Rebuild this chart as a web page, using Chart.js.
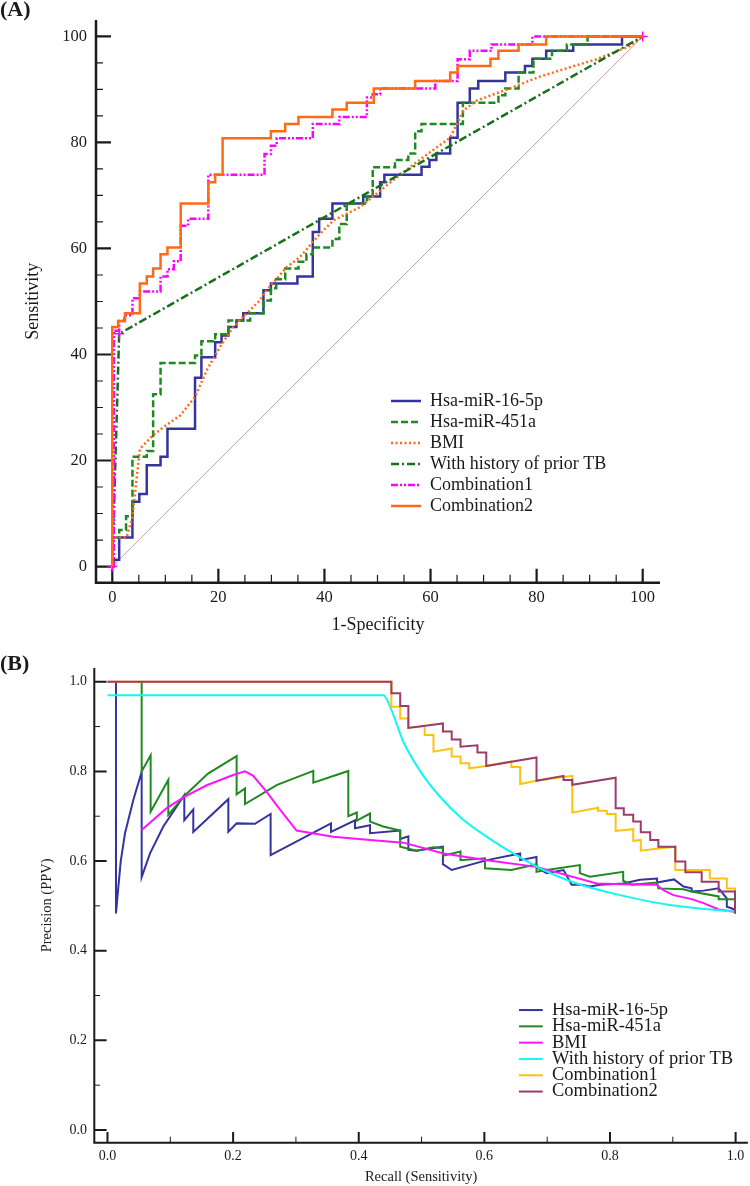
<!DOCTYPE html>
<html lang="en">
<head>
<meta charset="utf-8">
<title>ROC and PR curves</title>
<script src="https://cdn.jsdelivr.net/npm/chart.js@4.4.1/dist/chart.umd.min.js"></script>
<style>
  html, body { margin: 0; padding: 0; background: #fff; }
  canvas { display: block; }
</style>
</head>
<body>
<canvas id="rocChart" width="750" height="640"></canvas>
<canvas id="prChart" width="750" height="546"></canvas>
<script>
const seriesNames = ['Hsa-miR-16-5p', 'Hsa-miR-451a', 'BMI', 'With history of prior TB', 'Combination1', 'Combination2'];

// (A) ROC curves, 1-specificity (%) vs sensitivity (%) - corner points
const mir16Fpr = [0, 0, 1.3, 3.8, 5.1, 6.5, 9.1, 10.4, 15.6, 16.8, 19.4, 20.6, 21.9, 23.4, 24.7, 28.5, 29.9, 34.9, 37.8, 39.0, 41.5, 47.3, 50.5, 51.3, 58.3, 59.8, 61.1, 63.7, 65.1, 67.4, 69.0, 74.1, 77.8, 79.2, 81.8, 86.9, 96.1, 100];
const mir16Tpr = [0, 1.3, 5.5, 12.2, 13.7, 19.1, 20.7, 26.0, 35.6, 39.5, 42.3, 43.6, 45.2, 46.4, 47.8, 52.1, 53.4, 54.7, 63.1, 65.6, 68.5, 69.8, 72.5, 73.9, 75.4, 76.7, 77.9, 80.9, 87.5, 90.2, 91.6, 93.2, 94.4, 95.8, 97.3, 98.5, 100, 100];

const mir451Fpr = [0, 0, 1.3, 2.6, 3.8, 6.5, 7.7, 9.1, 15.6, 16.8, 19.4, 21.9, 26.0, 28.5, 29.9, 30.9, 32.6, 35.1, 36.6, 37.8, 41.5, 42.8, 44.2, 48.0, 49.1, 53.3, 55.8, 57.1, 58.3, 66.1, 72.8, 74.1, 76.6, 79.4, 82.9, 85.7, 89.6, 100];
const mir451Tpr = [0, 5.5, 6.9, 9.5, 20.7, 21.8, 32.5, 38.4, 39.8, 42.5, 43.8, 46.4, 47.8, 50.2, 52.5, 54.2, 56.2, 57.5, 58.9, 60.2, 61.8, 64.6, 68.5, 69.7, 75.3, 76.7, 77.9, 82.1, 83.5, 87.5, 88.9, 90.2, 93.2, 95.8, 97.3, 98.5, 100, 100];

const bmiFpr = [0, 0, 2.7, 3.8, 5.2, 7.7, 10.2, 12.8, 15.6, 17.8, 20.3, 22.8, 25.3, 27.8, 29.1, 32.9, 35.4, 39.2, 41.7, 46.7, 50.5, 53.6, 58.6, 63.7, 66.2, 68.7, 75.0, 80.0, 85.0, 91.3, 97.6, 100];
const bmiTpr = [0, 5.5, 5.5, 9.4, 22.2, 24.8, 26.7, 28.5, 32.0, 37.0, 41.4, 45.2, 47.7, 50.2, 52.1, 56.5, 58.4, 62.8, 65.3, 67.8, 70.9, 73.4, 77.2, 80.9, 86.0, 87.9, 90.2, 92.2, 93.8, 95.7, 98.2, 100];

const histFpr = [0, 1.3, 100];
const histTpr = [0, 43.9, 100];

const comb1Fpr = [0, 0.3, 1.3, 2.3, 3.8, 5.2, 9.1, 10.4, 11.6, 12.9, 14.3, 18.1, 28.7, 29.9, 31.0, 37.8, 42.8, 48.0, 49.1, 50.5, 60.9, 65.1, 67.4, 71.5, 79.2, 100];
const comb1Tpr = [0, 44.5, 46.3, 47.4, 50.6, 51.9, 54.7, 56.1, 57.6, 64.3, 65.6, 73.9, 77.8, 79.4, 80.8, 83.5, 84.8, 88.5, 89.1, 90.2, 91.6, 95.7, 97.3, 98.5, 100, 100];

const comb2Fpr = [0, 0, 1.1, 2.4, 5.2, 6.5, 7.7, 9.1, 10.4, 12.9, 18.1, 19.4, 20.8, 29.9, 32.6, 35.1, 41.5, 44.2, 49.3, 57.1, 63.7, 65.1, 71.3, 72.8, 76.6, 81.8, 100];
const comb2Tpr = [0, 45.2, 46.3, 47.8, 53.4, 54.7, 56.2, 58.9, 60.2, 68.5, 72.5, 73.9, 80.8, 82.1, 83.5, 84.8, 86.2, 87.5, 90.2, 91.6, 93.2, 94.4, 95.8, 97.3, 98.5, 100, 100];

const rocTicks = [0, 20, 40, 60, 80, 100];
const rocMinorTicks = [5, 10, 15, 25, 30, 35, 45, 50, 55, 65, 70, 75, 85, 90, 95];

// (B) precision-recall curves
const mir16Recall = [0.0135, 0.0135, 0.0165, 0.0211, 0.0279, 0.0411, 0.0544, 0.0544, 0.0677, 0.0889, 0.1223, 0.1223, 0.1366, 0.1366, 0.1924, 0.1924, 0.2056, 0.2348, 0.2597, 0.2597, 0.3558, 0.3558, 0.394, 0.394, 0.418, 0.418, 0.466, 0.466, 0.479, 0.479, 0.492, 0.534, 0.534, 0.548, 0.604, 0.657, 0.657, 0.683, 0.683, 0.699, 0.726, 0.739, 0.755, 0.768, 0.784, 0.821, 0.848, 0.875, 0.875, 0.902, 0.917, 0.930, 0.930, 0.949, 0.973, 0.986, 0.986, 0.999, 0.999];
const mir16Precision = [1.0, 0.483, 0.53, 0.60, 0.662, 0.736, 0.799, 0.564, 0.617, 0.677, 0.747, 0.691, 0.715, 0.665, 0.738, 0.665, 0.684, 0.683, 0.705, 0.613, 0.684, 0.665, 0.691, 0.673, 0.680, 0.662, 0.668, 0.649, 0.655, 0.625, 0.623, 0.632, 0.593, 0.580, 0.602, 0.617, 0.602, 0.609, 0.587, 0.573, 0.580, 0.547, 0.547, 0.543, 0.547, 0.550, 0.558, 0.561, 0.552, 0.559, 0.543, 0.539, 0.532, 0.534, 0.539, 0.517, 0.498, 0.492, 0.483];

const mir451Recall = [0.0544, 0.0544, 0.0687, 0.0687, 0.0968, 0.0968, 0.1223, 0.16, 0.2056, 0.2056, 0.2189, 0.2189, 0.27, 0.3277, 0.3277, 0.3834, 0.3834, 0.397, 0.397, 0.418, 0.418, 0.439, 0.466, 0.466, 0.492, 0.519, 0.534, 0.534, 0.562, 0.562, 0.601, 0.601, 0.643, 0.683, 0.683, 0.699, 0.752, 0.752, 0.768, 0.821, 0.821, 0.835, 0.875, 0.877, 0.917, 0.930, 0.973, 0.973, 0.999, 0.999];
const mir451Precision = [1.0, 0.800, 0.836, 0.710, 0.781, 0.703, 0.745, 0.795, 0.834, 0.749, 0.762, 0.727, 0.770, 0.801, 0.775, 0.801, 0.700, 0.708, 0.690, 0.706, 0.688, 0.677, 0.668, 0.632, 0.623, 0.631, 0.629, 0.612, 0.621, 0.602, 0.606, 0.584, 0.580, 0.593, 0.576, 0.580, 0.591, 0.573, 0.565, 0.576, 0.556, 0.547, 0.552, 0.539, 0.537, 0.532, 0.521, 0.515, 0.515, 0.483];

const bmiRecall = [0.0544, 0.0942, 0.1223, 0.158, 0.200, 0.219, 0.232, 0.253, 0.275, 0.301, 0.359, 0.418, 0.471, 0.535, 0.604, 0.683, 0.779, 0.821, 0.874, 0.885, 0.901, 0.930, 0.949, 0.973, 0.999];
const bmiPrecision = [0.669, 0.718, 0.743, 0.769, 0.792, 0.800, 0.790, 0.755, 0.714, 0.668, 0.654, 0.647, 0.641, 0.617, 0.602, 0.587, 0.550, 0.548, 0.547, 0.535, 0.524, 0.515, 0.506, 0.492, 0.487];

const histRecall = [0, 0.439, 0.450, 0.471, 0.500, 0.529, 0.564, 0.604, 0.646, 0.694, 0.747, 0.816, 0.895, 0.999];
const histPrecision = [0.970, 0.970, 0.944, 0.866, 0.796, 0.744, 0.695, 0.654, 0.617, 0.580, 0.550, 0.524, 0.502, 0.487];

const comb1Recall = [0, 0.452, 0.452, 0.466, 0.466, 0.479, 0.479, 0.505, 0.505, 0.519, 0.519, 0.548, 0.548, 0.562, 0.562, 0.576, 0.576, 0.603, 0.643, 0.643, 0.657, 0.657, 0.683, 0.740, 0.740, 0.781, 0.781, 0.795, 0.795, 0.809, 0.809, 0.837, 0.837, 0.849, 0.849, 0.877, 0.904, 0.904, 0.959, 0.959, 0.986, 0.986, 0.999, 0.999];
const comb1Precision = [1.0, 1.0, 0.944, 0.944, 0.918, 0.918, 0.897, 0.901, 0.881, 0.881, 0.844, 0.851, 0.833, 0.833, 0.818, 0.818, 0.807, 0.812, 0.822, 0.810, 0.810, 0.772, 0.779, 0.790, 0.708, 0.719, 0.712, 0.712, 0.705, 0.705, 0.667, 0.671, 0.645, 0.647, 0.623, 0.628, 0.632, 0.580, 0.580, 0.561, 0.561, 0.539, 0.539, 0.483];

const comb2Recall = [0, 0.452, 0.452, 0.466, 0.466, 0.479, 0.479, 0.534, 0.534, 0.548, 0.548, 0.562, 0.562, 0.589, 0.589, 0.603, 0.603, 0.683, 0.683, 0.726, 0.726, 0.740, 0.740, 0.809, 0.809, 0.822, 0.822, 0.837, 0.837, 0.849, 0.849, 0.864, 0.864, 0.877, 0.877, 0.904, 0.904, 0.920, 0.920, 0.946, 0.946, 0.973, 0.973, 0.999, 0.999];
const comb2Precision = [1.0, 1.0, 0.974, 0.974, 0.946, 0.946, 0.897, 0.907, 0.889, 0.889, 0.871, 0.871, 0.855, 0.858, 0.842, 0.842, 0.812, 0.831, 0.779, 0.790, 0.781, 0.781, 0.770, 0.786, 0.718, 0.718, 0.703, 0.703, 0.688, 0.688, 0.664, 0.664, 0.647, 0.647, 0.632, 0.632, 0.599, 0.599, 0.575, 0.575, 0.554, 0.554, 0.532, 0.532, 0.483];

const prTicks = [0, 0.2, 0.4, 0.6, 0.8, 1];
const prMinorTicks = [0.1, 0.3, 0.5, 0.7, 0.9];
const prTickLabels = ['0.0', '0.2', '0.4', '0.6', '0.8', '1.0'];

const serif = '"Liberation Serif", "Times New Roman", serif';
const ink = '#1a1a1a';

function toPoints(xs, ys) {
  return xs.map((x, i) => ({ x, y: ys[i] }));
}

// axis lines on the chart-area edges plus inward major/minor tick marks
const axisFrame = {
  id: 'axisFrame',
  beforeDatasetsDraw(chart, args, o) {
    const { ctx, chartArea: a, scales: { x, y } } = chart;
    ctx.save();
    ctx.strokeStyle = ink;
    ctx.lineWidth = o.axisWidth;
    ctx.beginPath();
    ctx.moveTo(a.left, a.top);
    ctx.lineTo(a.left, a.bottom);
    ctx.lineTo(a.right, a.bottom);
    ctx.stroke();
    const mark = (vals, lenX, lenY, width) => {
      ctx.lineWidth = width;
      ctx.beginPath();
      vals.forEach(v => {
        const px = x.getPixelForValue(v);
        ctx.moveTo(px, a.bottom);
        ctx.lineTo(px, a.bottom - lenX);
        const py = y.getPixelForValue(v);
        ctx.moveTo(a.left, py);
        ctx.lineTo(a.left + lenY, py);
      });
      ctx.stroke();
    };
    mark(o.major, o.majorX, o.majorY, o.majorWidth);
    mark(o.minor, o.minorX, o.minorY, o.minorWidth);
    ctx.restore();
  }
};

// move the legend (position 'chartArea') to where the figure has it
const legendSpot = {
  id: 'legendSpot',
  afterLayout(chart, args, o) {
    const lg = chart.legend;
    if (!lg) return;
    lg.left = o.x;
    lg.top = o.y;
    lg.right = o.x + 340;
    lg.bottom = o.y + 220;
  }
};

function legendItems(chart) {
  return chart.data.datasets.slice(0, 6).map((ds, i) => ({
    text: ds.label,
    datasetIndex: i,
    hidden: false,
    strokeStyle: ds.borderColor,
    fillStyle: ds.borderColor,
    lineWidth: ds.borderWidth,
    lineDash: ds.borderDash || [],
    pointStyle: 'line',
    fontColor: ink
  }));
}

function scaleOpts(min, max, ticks, labels, size, fit, title) {
  return {
    type: 'linear',
    min, max,
    grid: { display: false, drawTicks: false },
    border: { display: false },
    afterBuildTicks: s => { s.ticks = ticks.map(v => ({ value: v })); },
    afterFit: fit,
    ticks: {
      autoSkip: false, maxRotation: 0,
      padding: size.pad,
      color: ink,
      font: { family: serif, size: size.tick },
      callback: (v, i) => labels ? labels[i] : String(v)
    },
    title
  };
}

// ---- (A) ROC ----
const rocDatasets = [
  { label: seriesNames[0], data: toPoints(mir16Fpr, mir16Tpr), borderColor: '#34349e', borderWidth: 2.5, stepped: 'before', order: 6 },
  { label: seriesNames[1], data: toPoints(mir451Fpr, mir451Tpr), borderColor: '#1f8a1f', borderWidth: 2.5, borderDash: [7, 3], stepped: 'before', order: 5 },
  { label: seriesNames[2], data: toPoints(bmiFpr, bmiTpr), borderColor: '#ff6a1a', borderWidth: 2.5, borderDash: [2, 2.5], order: 4 },
  { label: seriesNames[3], data: toPoints(histFpr, histTpr), borderColor: '#17701a', borderWidth: 2.5, borderDash: [8, 3, 2, 3], order: 3,
    pointStyle: 'cross', pointRadius: 5, pointBorderColor: '#ff00ff', pointBorderWidth: 1.5 },
  { label: seriesNames[4], data: toPoints(comb1Fpr, comb1Tpr), borderColor: '#ff00ff', borderWidth: 2.5, borderDash: [7, 2, 2, 2, 2, 2], stepped: 'before', order: 2 },
  { label: seriesNames[5], data: toPoints(comb2Fpr, comb2Tpr), borderColor: '#ff6a13', borderWidth: 2.5, stepped: 'before', order: 1 },
  { label: 'Reference', data: toPoints([0, 100], [0, 100]), borderColor: '#d49a9a', borderWidth: 1, order: 10 }
];

new Chart(document.getElementById('rocChart'), {
  type: 'line',
  data: { datasets: rocDatasets },
  options: {
    responsive: false,
    animation: false,
    events: [],
    layout: { padding: { left: 0, top: 0, right: 90, bottom: 0 }, autoPadding: false },
    elements: { point: { radius: 0 }, line: { tension: 0 } },
    scales: {
      x: scaleOpts(-3.07, 103.26, rocTicks, null, { tick: 16.5, pad: 5 }, s => { s.height = 57.3; },
        { display: true, text: '1-Specificity', color: ink, font: { family: serif, size: 18 }, padding: { top: 0, bottom: 4 } }),
      y: scaleOpts(-3.05, 103.1, rocTicks, null, { tick: 16.5, pad: 9 }, s => { s.width = 96; },
        { display: true, text: 'Sensitivity', color: ink, font: { family: serif, size: 18 }, padding: { top: 22, bottom: 0 } })
    },
    plugins: {
      title: { display: true, text: '(A)', align: 'start', color: ink, padding: 0,
        font: { family: serif, size: 22, weight: 'bold', lineHeight: '20px' } },
      legend: {
        position: 'chartArea', align: 'start',
        labels: { usePointStyle: true, pointStyle: 'line', pointStyleWidth: 30, padding: 3,
          color: ink, font: { family: serif, size: 18 }, generateLabels: legendItems }
      },
      tooltip: { enabled: false },
      legendSpot: { x: 388, y: 389 },
      axisFrame: { major: rocTicks, minor: rocMinorTicks, axisWidth: 2.5, majorX: 14, majorY: 15, minorX: 8, minorY: 7, majorWidth: 2.2, minorWidth: 1.2 }
    }
  },
  plugins: [axisFrame, legendSpot]
});

// ---- (B) precision-recall ----
const prDatasets = [
  { label: seriesNames[0], data: toPoints(mir16Recall, mir16Precision), borderColor: '#34349e', order: 6 },
  { label: seriesNames[1], data: toPoints(mir451Recall, mir451Precision), borderColor: '#1f8a1f', order: 5 },
  { label: seriesNames[2], data: toPoints(bmiRecall, bmiPrecision), borderColor: '#ff14ff', order: 4 },
  { label: seriesNames[3], data: toPoints(histRecall, histPrecision), borderColor: '#14f5f5', cubicInterpolationMode: 'monotone', order: 3 },
  { label: seriesNames[4], data: toPoints(comb1Recall, comb1Precision), borderColor: '#ffc20e', order: 2 },
  { label: seriesNames[5], data: toPoints(comb2Recall, comb2Precision), borderColor: '#9c3b6c', order: 1 }
];
prDatasets.forEach(ds => { ds.borderWidth = 2; });

new Chart(document.getElementById('prChart'), {
  type: 'line',
  data: { datasets: prDatasets },
  options: {
    responsive: false,
    animation: false,
    events: [],
    layout: { padding: { left: 0, top: 20, right: 2, bottom: 0 }, autoPadding: false },
    elements: { point: { radius: 0 }, line: { tension: 0 } },
    scales: {
      x: scaleOpts(-0.021, 1.0196, prTicks, prTickLabels, { tick: 14, pad: 5.6 }, s => { s.height = 43.3; },
        { display: true, text: 'Recall (Sensitivity)', color: ink, font: { family: serif, size: 14.5 }, padding: { top: 0, bottom: 0.6 } }),
      y: scaleOpts(-0.0283, 1.0306, prTicks, prTickLabels, { tick: 14, pad: 7.3 }, s => { s.width = 94.3; },
        { display: true, text: 'Precision (PPV)', color: ink, font: { family: serif, size: 14.5 }, padding: { top: 38.3, bottom: 0 } })
    },
    plugins: {
      title: { display: true, text: '(B)', align: 'start', color: ink, padding: 0,
        font: { family: serif, size: 22, weight: 'bold', lineHeight: '8px' } },
      legend: {
        position: 'chartArea', align: 'start',
        labels: { usePointStyle: true, pointStyle: 'line', pointStyleWidth: 26, padding: -2.2,
          color: ink, font: { family: serif, size: 18.5 }, generateLabels: legendItems }
      },
      tooltip: { enabled: false },
      legendSpot: { x: 518.9, y: 363 },
      axisFrame: { major: prTicks, minor: prMinorTicks, axisWidth: 2, majorX: 10.7, majorY: 12.3, minorX: 6, minorY: 5.7, majorWidth: 2, minorWidth: 1 }
    }
  },
  plugins: [axisFrame, legendSpot]
});
</script>
</body>
</html>
